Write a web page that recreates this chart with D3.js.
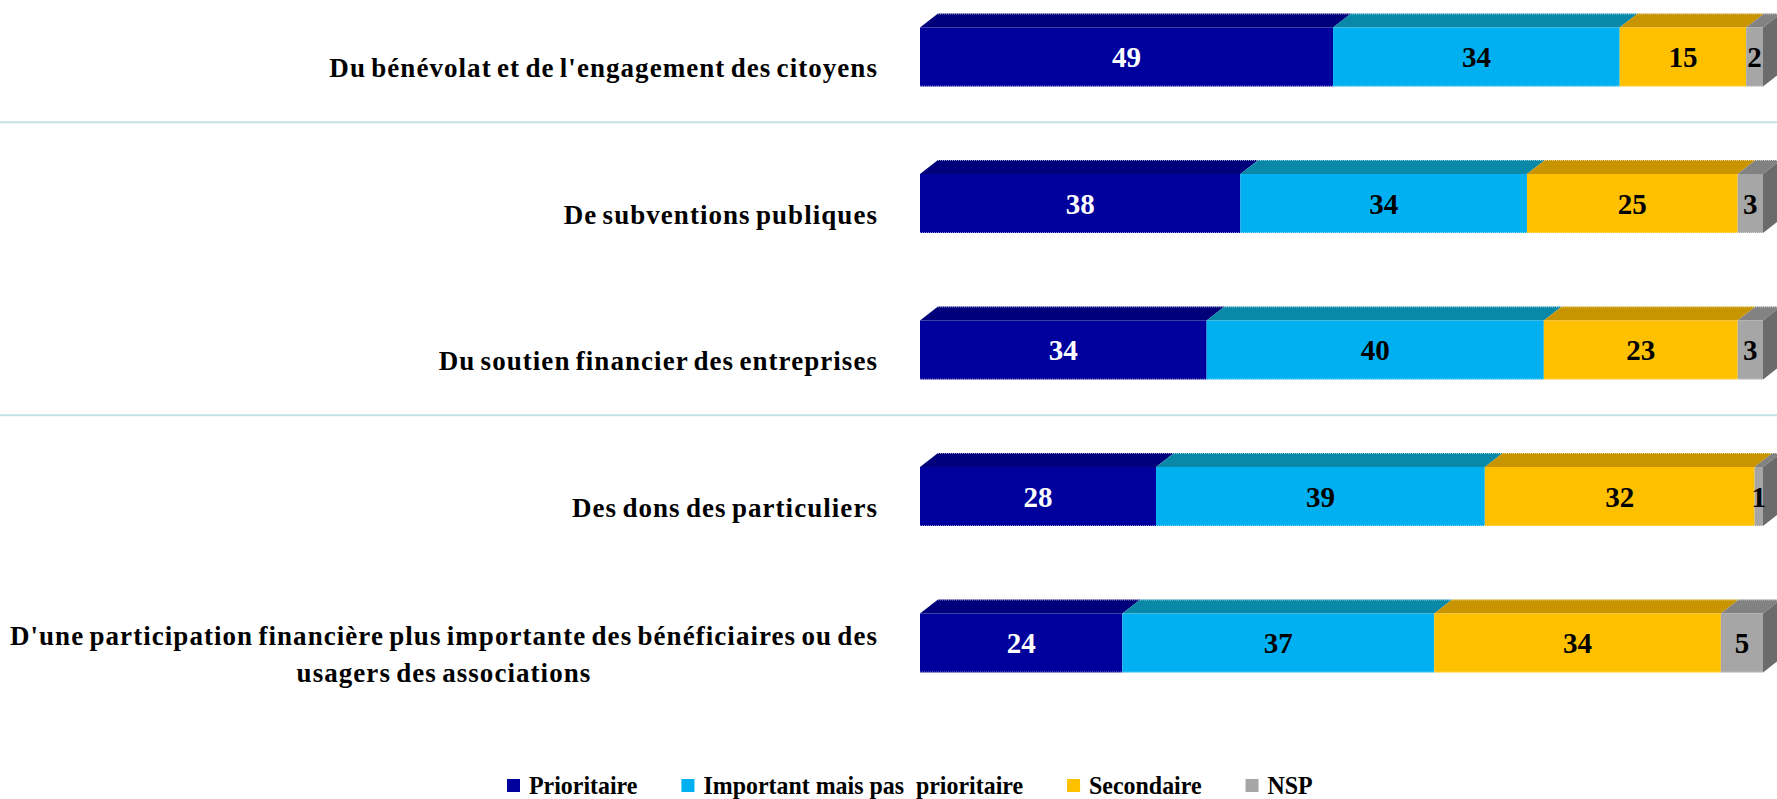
<!DOCTYPE html>
<meta charset="utf-8">
<style>
body { margin: 0; background: #fff; }
svg text { font-family: "Liberation Serif", "Times New Roman", serif; font-weight: bold; }
.label { font-size: 27px; fill: #000; letter-spacing: 1.05px; word-spacing: -2.5px; }
.value { font-size: 29px; }
.legend text { font-size: 26px; white-space: pre; }
.sep { stroke: #c3e2e8; stroke-width: 2; }
</style>
<svg width="1777" height="799"></svg>
<script src="https://cdn.jsdelivr.net/npm/d3@7"></script>
<script>

// categories, top to bottom
var categories = [
  "Du bénévolat et de l'engagement des citoyens",
  "De subventions publiques",
  "Du soutien financier des entreprises",
  "Des dons des particuliers",
  "D'une participation financière plus importante des bénéficiaires ou des\nusagers des associations"
];

var seriesNames = ["Prioritaire", "Important mais pas  prioritaire", "Secondaire", "NSP"];

var prioritaire = [49, 38, 34, 28, 24];
var important   = [34, 34, 40, 39, 37];
var secondaire  = [15, 25, 23, 32, 34];
var nsp         = [2, 3, 3, 1, 5];

// separators drawn after these rows
var groupBreaks = [0, 2];

var frontColors = ["#00009c", "#00b0f0", "#ffc000", "#a6a6a6"];
var topColors   = ["#00007a", "#0a88a8", "#c89500", "#828282"];
var sideColor = "#6b6b6b";
var textColors  = ["#fff", "#000", "#000", "#000"];

var svg = d3.select("svg"),
    width = +svg.attr("width"),
    height = +svg.attr("height");

var rows = categories.map(function(c, i) {
  return { name: c, values: [prioritaire[i], important[i], secondaire[i], nsp[i]] };
});

var x = d3.scaleLinear()
    .domain([0, 100])
    .range([920, 1763]);

var y = d3.scalePoint()
    .domain(categories)
    .range([57, 643]);

var barH = 59, dx = 18, dy = 14;

// separators
svg.selectAll(".sep")
    .data(groupBreaks)
  .enter().append("line")
    .attr("class", "sep")
    .attr("x1", 0)
    .attr("x2", width)
    .attr("y1", function(i) { return (y(categories[i]) + y(categories[i + 1])) / 2 - 8; })
    .attr("y2", function(i) { return (y(categories[i]) + y(categories[i + 1])) / 2 - 8; });

var row = svg.selectAll(".row")
    .data(rows)
  .enter().append("g")
    .attr("class", "row")
    .attr("transform", function(d) { return "translate(0," + (y(d.name) - barH / 2) + ")"; });

row.each(function(d) {
  var g = d3.select(this);
  var segs = [], acc = 0;
  d.values.forEach(function(v, k) {
    segs.push({ k: k, v: v, x0: x(acc), x1: x(acc + v) });
    acc += v;
  });

  // top faces
  g.selectAll(".top")
      .data(segs)
    .enter().append("path")
      .attr("fill", function(s) { return topColors[s.k]; })
      .attr("d", function(s) {
        return "M" + s.x0 + ",0L" + (s.x0 + dx) + "," + (-dy) + "L" + (s.x1 + dx) + "," + (-dy) + "L" + s.x1 + ",0Z";
      });

  // right side face
  var last = segs[segs.length - 1];
  g.append("path")
      .attr("fill", sideColor)
      .attr("d", "M" + last.x1 + ",0L" + (last.x1 + dx) + "," + (-dy) + "L" + (last.x1 + dx) + "," + (barH - dy) + "L" + last.x1 + "," + barH + "Z");

  // front faces
  g.selectAll(".front")
      .data(segs)
    .enter().append("rect")
      .attr("x", function(s) { return s.x0; })
      .attr("y", 0)
      .attr("width", function(s) { return s.x1 - s.x0; })
      .attr("height", barH)
      .attr("fill", function(s) { return frontColors[s.k]; });

  // dotted edges
  g.append("line")
      .attr("x1", x(0) + dx).attr("x2", x(100) + dx)
      .attr("y1", -dy + 0.5).attr("y2", -dy + 0.5)
      .attr("stroke", "#fff").attr("stroke-opacity", 0.6)
      .attr("stroke-dasharray", "1,1");
  g.append("line")
      .attr("x1", x(0)).attr("x2", x(100))
      .attr("y1", barH - 0.5).attr("y2", barH - 0.5)
      .attr("stroke", "#fff").attr("stroke-opacity", 0.5)
      .attr("stroke-dasharray", "1,1");

  // value labels
  g.selectAll(".value")
      .data(segs)
    .enter().append("text")
      .attr("class", "value")
      .attr("x", function(s) { return (s.x0 + s.x1) / 2; })
      .attr("y", barH / 2 + 10)
      .attr("text-anchor", "middle")
      .attr("fill", function(s) { return textColors[s.k]; })
      .text(function(s) { return s.v; });

  // category label
  var lines = d.name.split("\n");
  var labelRight = 878;
  var base = barH / 2 + 20 - (lines.length - 1) * 18.5;
  var first = g.append("text")
      .attr("class", "label")
      .attr("x", labelRight)
      .attr("y", base)
      .attr("text-anchor", "end")
      .text(lines[0]);
  var w = first.node().getComputedTextLength();
  for (var j = 1; j < lines.length; j++) {
    g.append("text")
        .attr("class", "label")
        .attr("x", labelRight - w / 2)
        .attr("y", base + 37 * j)
        .attr("text-anchor", "middle")
        .text(lines[j]);
  }
});

// legend
var legend = svg.append("g")
    .attr("class", "legend")
    .attr("transform", "translate(507,785)");

var squeeze = 0.92;
var lx = 0;
seriesNames.forEach(function(name, k) {
  var item = legend.append("g").attr("transform", "translate(" + lx + ",0)");
  item.append("rect")
      .attr("x", 0).attr("y", -6)
      .attr("width", 13).attr("height", 13)
      .attr("fill", frontColors[k]);
  var t = item.append("text")
      .attr("transform", "translate(22,9) scale(" + squeeze + ",1)")
      .text(name);
  lx += 22 + t.node().getComputedTextLength() * squeeze + 44;
});

</script>
